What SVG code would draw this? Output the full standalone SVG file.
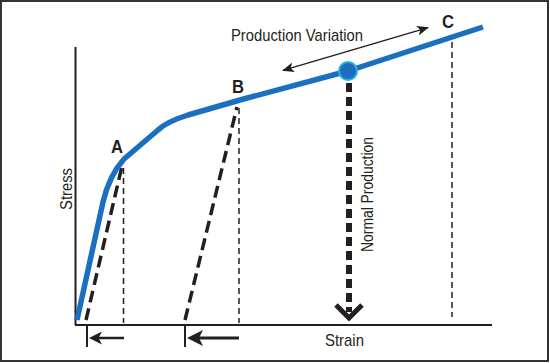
<svg xmlns="http://www.w3.org/2000/svg" width="550" height="363" viewBox="0 0 550 363">
<defs>
<style>
text{font-family:"Liberation Sans",Arial,sans-serif;fill:#231f20}
.lbl{font-size:17px}
.pt{font-size:18px;font-weight:bold}
.thin{stroke:#231f20;stroke-width:1.5;stroke-dasharray:6 4;fill:none}
.thick{stroke:#231f20;stroke-width:3.5;stroke-dasharray:12 6;fill:none}
.ax{stroke:#231f20;stroke-width:2;fill:none}
.head{fill:#231f20}
</style>
<marker id="ah" viewBox="0 0 12 10" refX="11" refY="5" markerWidth="12" markerHeight="10" markerUnits="userSpaceOnUse" orient="auto-start-reverse">
<path d="M0,0 L12,5 L0,10 L3,5 Z" fill="#231f20"/>
</marker>
</defs>
<rect x="1" y="1" width="547" height="360" fill="#fff" stroke="#333" stroke-width="2"/>
<g id="axes">
<line class="ax" x1="75.5" y1="47" x2="75.5" y2="325"/>
<line class="ax" x1="75" y1="325" x2="492" y2="325"/>
<text class="lbl" transform="translate(72,189) rotate(-90)" text-anchor="middle" textLength="42" lengthAdjust="spacingAndGlyphs">Stress</text>
<text class="lbl" x="325" y="346" textLength="39" lengthAdjust="spacingAndGlyphs">Strain</text>
</g>
<g id="connectors">
<line class="thick" x1="86" y1="320" x2="122" y2="166"/>
<line class="thin" x1="123.5" y1="168" x2="123.5" y2="323"/>
<line class="thick" x1="185" y1="320" x2="237" y2="107"/>
<line class="thin" x1="239" y1="108" x2="239" y2="323"/>
<line class="thin" x1="452" y1="42" x2="452" y2="317"/>
<line x1="349" y1="83" x2="349" y2="312" stroke="#231f20" stroke-width="6" stroke-dasharray="9 5"/>
<polyline points="336,305 349,318 362,305" fill="none" stroke="#231f20" stroke-width="5"/>
<line x1="283" y1="70.4" x2="428" y2="27.6" stroke="#231f20" stroke-width="1.5" marker-start="url(#ah)" marker-end="url(#ah)"/>
<line class="ax" x1="87" y1="326" x2="87" y2="347"/>
<line x1="124" y1="338" x2="96" y2="338" stroke="#231f20" stroke-width="2.5"/>
<path class="head" d="M89,338 L102,331.5 L98.5,338 L102,344.5 Z"/>
<line class="ax" x1="185" y1="326" x2="185" y2="347"/>
<line x1="239" y1="338" x2="198" y2="338" stroke="#231f20" stroke-width="3"/>
<path class="head" d="M187,338 L203,330 L199,338 L203,346 Z"/>
</g>
<g id="curve">
<path d="M77,320 L103,202 Q109,176 124,159 L158,130 Q166,122 188,115 L240,100 L348,71 L483,27" fill="none" stroke="#1b6fc0" stroke-width="5.5" stroke-linejoin="round"/>
</g>
<g id="pointA"><text class="pt" x="111" y="153" textLength="12" lengthAdjust="spacingAndGlyphs">A</text></g>
<g id="pointB"><text class="pt" x="232" y="93" textLength="12" lengthAdjust="spacingAndGlyphs">B</text></g>
<g id="pointC"><text class="pt" x="442" y="28" textLength="12" lengthAdjust="spacingAndGlyphs">C</text></g>
<g id="normal">
<circle cx="348" cy="71" r="9" fill="#1f6dbd" stroke="#27b0e8" stroke-width="2"/>
<text class="lbl" transform="translate(373,194.5) rotate(-90)" text-anchor="middle" textLength="115" lengthAdjust="spacingAndGlyphs">Normal Production</text>
</g>
<g id="variation">
<text class="lbl" x="231" y="41" textLength="132" lengthAdjust="spacingAndGlyphs">Production Variation</text>
</g>
</svg>
